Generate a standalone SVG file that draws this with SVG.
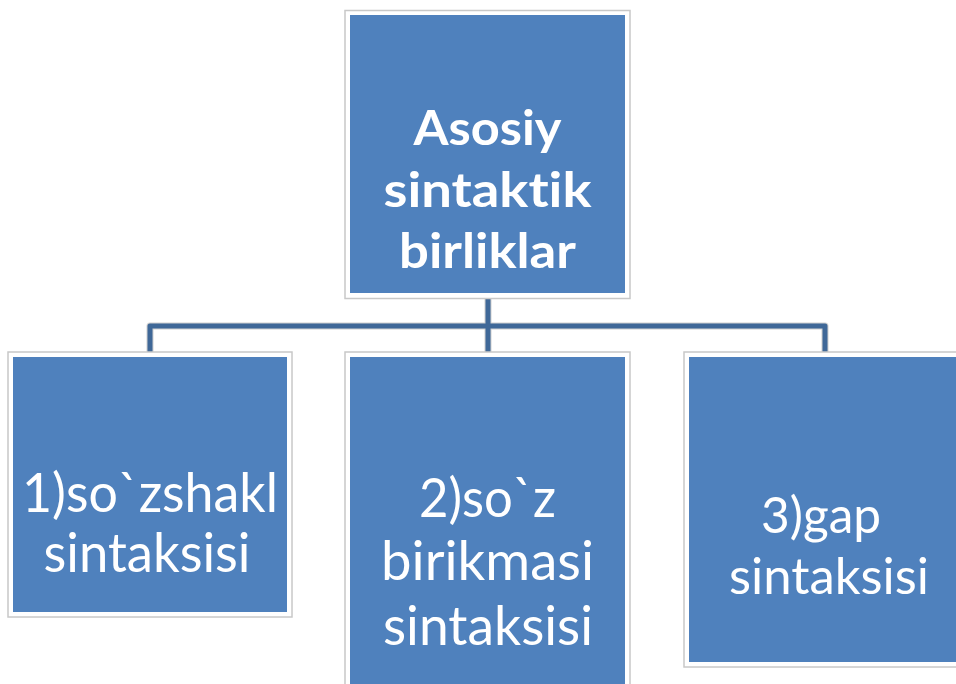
<svg xmlns="http://www.w3.org/2000/svg" width="956" height="684" viewBox="0 0 956 684">
<style>
.frame{fill:#ffffff;stroke:#c8c8c8;stroke-width:1.5}
.box{fill:#4F81BD}
.halo{fill:none;stroke:#d0d0d0;stroke-width:7;stroke-linejoin:round}
.conn{fill:none;stroke:#3F6898;stroke-width:5;stroke-linejoin:round}
text{font-family:Lato,"Open Sans","Liberation Sans",sans-serif;fill:#ffffff;text-anchor:middle;font-variant-ligatures:none;font-feature-settings:"liga" 0}
.t{font-weight:bold;font-size:47px}
.c{font-size:54px}
.r{font-size:50px}
</style>
<rect width="956" height="684" fill="#ffffff"/>
<g id="connectors">
<path class="halo" d="M488 298 V352 M150 352 V326 H825 V352"/>
<path class="conn" d="M488 298 V352 M150 352 V326 H825 V352"/>
</g>
<g id="root">
<rect class="frame" x="345" y="10.5" width="285" height="288"/>
<rect class="box" x="350" y="15" width="275" height="278"/>
<text class="t" x="487.5" y="145" textLength="148" lengthAdjust="spacingAndGlyphs">Asosiy</text>
<text class="t" x="487.5" y="207" textLength="208" lengthAdjust="spacingAndGlyphs">sintaktik</text>
<text class="t" x="487.5" y="268" textLength="177" lengthAdjust="spacingAndGlyphs">birliklar</text>
</g>
<g id="n1">
<rect class="frame" x="8" y="352" width="284" height="265"/>
<rect class="box" x="13" y="357" width="274" height="255"/>
<text class="c" x="150" y="512" textLength="256" lengthAdjust="spacingAndGlyphs">1)so`zshakl</text>
<text class="c" x="147" y="572" textLength="207" lengthAdjust="spacingAndGlyphs">sintaksisi</text>
</g>
<g id="n2">
<rect class="frame" x="345" y="352" width="285" height="340"/>
<rect class="box" x="350" y="357" width="275" height="330"/>
<text class="c" x="487.5" y="517" textLength="137" lengthAdjust="spacingAndGlyphs">2)so`z</text>
<text class="c" x="487.5" y="580" textLength="213" lengthAdjust="spacingAndGlyphs">birikmasi</text>
<text class="c" x="488" y="645" textLength="210" lengthAdjust="spacingAndGlyphs">sintaksisi</text>
</g>
<g id="n3">
<rect class="frame" x="684" y="352" width="285" height="315"/>
<rect class="box" x="689" y="357" width="275" height="305"/>
<text class="r" x="821" y="533" textLength="120" lengthAdjust="spacingAndGlyphs">3)gap</text>
<text class="r" x="829" y="594" textLength="200" lengthAdjust="spacingAndGlyphs">sintaksisi</text>
</g>
</svg>
